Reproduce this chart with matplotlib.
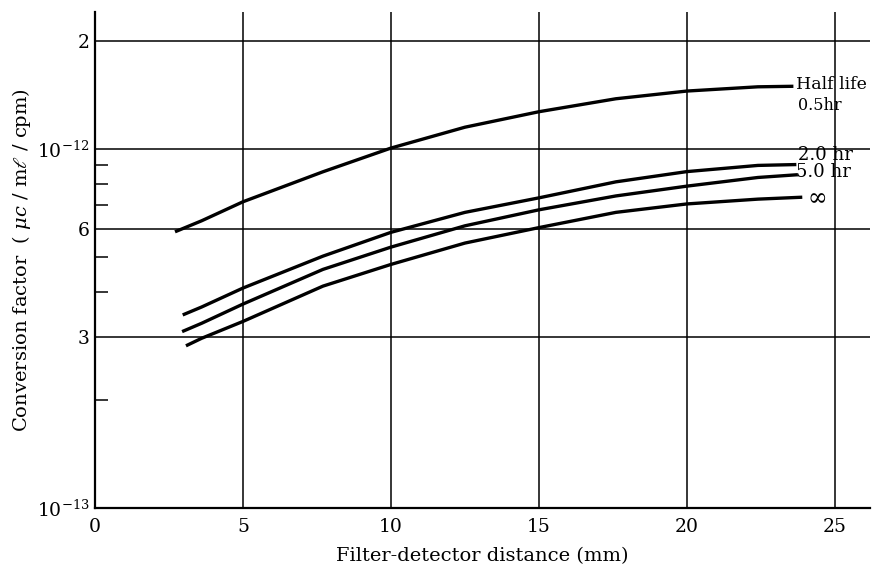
#!/usr/bin/env python3

import matplotlib
matplotlib.use('Agg')
import matplotlib.pyplot as plt
import matplotlib.ticker as mticker

# curves (x in mm, y in units of 1e-13 uc/ml/cpm)
x_half = [2.7, 3.6, 5.0, 7.7, 10.0, 12.5, 15.0, 17.6, 20.0, 22.4, 23.6]
y_half = [5.88, 6.31, 7.13, 8.64, 10.06, 11.5, 12.7, 13.8, 14.5, 14.9, 14.95]

x_2hr = [2.96, 3.6, 5.0, 7.7, 10.0, 12.5, 15.0, 17.6, 20.0, 22.4, 23.7]
y_2hr = [3.45, 3.63, 4.10, 5.03, 5.86, 6.66, 7.31, 8.1, 8.65, 9.0, 9.05]

x_5hr = [2.94, 3.6, 5.0, 7.7, 10.0, 12.5, 15.0, 17.6, 20.0, 22.4, 23.75]
y_5hr = [3.10, 3.27, 3.70, 4.62, 5.33, 6.11, 6.77, 7.4, 7.88, 8.33, 8.48]

x_inf = [3.07, 3.6, 5.0, 7.7, 10.0, 12.5, 15.0, 17.6, 20.0, 22.4, 23.9]
y_inf = [2.83, 2.97, 3.31, 4.15, 4.77, 5.47, 6.04, 6.66, 7.03, 7.25, 7.34]

curve_labels = ['Half life', '2.0 hr', '5.0 hr', r'$\infty$']

x_ticks = [0, 5, 10, 15, 20, 25]
y_major = [1.0, 3.0, 6.0, 10.0, 20.0]
y_major_labels = [r'$10^{-13}$', '3', '6', r'$10^{-12}$', '2']
y_minor = [2.0, 4.0, 5.0, 7.0, 8.0, 9.0]

SCALE = 1e-13

plt.rcParams['font.family'] = ['DejaVu Serif']
plt.rcParams['mathtext.fontset'] = 'dejavuserif'

fig = plt.figure(figsize=(8.89, 5.67), dpi=100)
ax = fig.add_axes([0.107, 0.104, 0.872, 0.874])

ax.set_yscale('log')
ax.set_xlim(0, 26.2)
ax.set_ylim(1.0 * SCALE, 24.0 * SCALE)

# grid lines drawn by hand at the labelled values
for xv in x_ticks[1:]:
    ax.axvline(xv, color='black', lw=1.1, zorder=1)
for yv in y_major[1:]:
    ax.axhline(yv * SCALE, color='black', lw=1.1, zorder=1)

series = [(x_half, y_half), (x_2hr, y_2hr), (x_5hr, y_5hr), (x_inf, y_inf)]
for xs, ys in series:
    ax.plot(xs, [v * SCALE for v in ys], color='black', lw=2.4,
            solid_capstyle='butt', solid_joinstyle='round', zorder=3)

# curve labels at the right hand ends
ax.text(x_half[-1] + 0.1, y_half[-1] * SCALE * 1.01, curve_labels[0],
        fontsize=12.5, va='center', ha='left')
ax.text(x_half[-1] + 0.15, y_half[-1] * SCALE * 0.885, '0.5hr',
        fontsize=11.5, va='center', ha='left')
ax.text(x_2hr[-1] + 0.05, y_2hr[-1] * SCALE * 1.065, curve_labels[1],
        fontsize=13, va='center', ha='left')
ax.text(x_5hr[-1] - 0.05, y_5hr[-1] * SCALE * 1.015, curve_labels[2],
        fontsize=13, va='center', ha='left')
ax.text(x_inf[-1] + 0.15, y_inf[-1] * SCALE * 1.005, curve_labels[3],
        fontsize=17, va='center', ha='left')

# ticks
ax.set_xticks(x_ticks)
ax.set_xticklabels([str(t) for t in x_ticks], fontsize=13.5)
ax.yaxis.set_major_locator(mticker.FixedLocator([v * SCALE for v in y_major]))
ax.yaxis.set_major_formatter(mticker.FixedFormatter(y_major_labels))
ax.yaxis.set_minor_locator(mticker.FixedLocator([v * SCALE for v in y_minor]))
ax.yaxis.set_minor_formatter(mticker.NullFormatter())
ax.tick_params(axis='x', length=0, pad=7)
ax.tick_params(axis='y', which='major', length=0, pad=4, labelsize=13.5)
ax.tick_params(axis='y', which='minor', direction='in', length=9, width=1.1)

for side in ['top', 'right']:
    ax.spines[side].set_visible(False)
for side in ['left', 'bottom']:
    ax.spines[side].set_linewidth(1.6)

ax.set_xlabel('Filter-detector distance (mm)', fontsize=14, labelpad=8)
ax.set_ylabel(r'Conversion factor  ( $\mu c$ / m$\ell$ / cpm)', fontsize=14,
              labelpad=3)

fig.savefig('out.png', dpi=100)
